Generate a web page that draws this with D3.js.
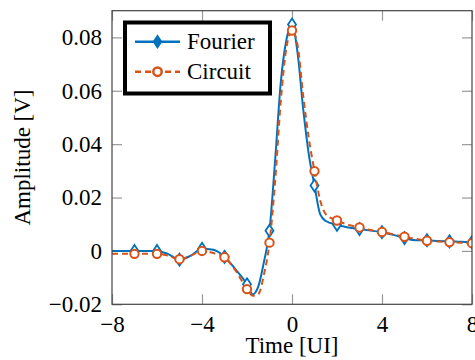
<!DOCTYPE html>
<html>
<head>
<meta charset="utf-8">
<script src="https://cdn.jsdelivr.net/npm/d3@7"></script>
<style>
  body { margin: 0; background: #fff; }
  svg { display: block; }
</style>
</head>
<body>
<svg id="chart"></svg>
<script>
// sample times of the traced curves
const lineTime = [-8, -7.5, -7, -6.5, -6, -5.5, -5, -4.5, -4, -3.5, -3, -2.5, -2, -1.75, -1.5, -1.25,
  -1, -0.75, -0.5, -0.25, 0, 0.25, 0.5, 0.75, 1, 1.25, 1.5, 2, 2.5, 3, 3.5, 4, 4.5, 5, 5.5, 6, 6.5, 7, 7.5, 8];
const fourierLine = [0, 0, 0, 0, 0, -0.0012, -0.0033, -0.0018, 0.0008, 0.0004, -0.0022, -0.0070, -0.0125, -0.0163, -0.0134, -0.0042,
  0.0076, 0.034, 0.063, 0.079, 0.0848, 0.074, 0.053, 0.036, 0.0245, 0.0138, 0.0112, 0.0098, 0.0088, 0.0082, 0.0076, 0.0070, 0.0060, 0.0048, 0.0040, 0.0040, 0.0037, 0.0036, 0.0034, 0.0033];
const circuitLine = [-0.0011, -0.0011, -0.0011, -0.0011, -0.0011, -0.0018, -0.0031, -0.0018, 0.0, -0.0008, -0.0024, -0.0075, -0.0143, -0.0168, -0.0162, -0.009,
  0.0031, 0.026, 0.056, 0.076, 0.0826, 0.077, 0.058, 0.042, 0.0299, 0.019, 0.0138, 0.0114, 0.0098, 0.0088, 0.0078, 0.0071, 0.0062, 0.0053, 0.0045, 0.0038, 0.0035, 0.0033, 0.0031, 0.0029];

// marker positions (one per UI)
const markTime = [-7, -6, -5, -4, -3, -2, -1, 0, 1, 2, 3, 4, 5, 6, 7, 8];
const fourierMarks = [0, 0, -0.0033, 0.0008, -0.0022, -0.0125, 0.0076, 0.0848, 0.0245, 0.0098, 0.0082, 0.0070, 0.0048, 0.0040, 0.0036, 0.0033];
const circuitMarks = [-0.0011, -0.0011, -0.0031, 0.0, -0.0024, -0.0143, 0.0031, 0.0826, 0.0299, 0.0114, 0.0088, 0.0071, 0.0053, 0.0038, 0.0033, 0.0029];

const xTicks = [-8, -4, 0, 4, 8];
const yTicks = [-0.02, 0, 0.02, 0.04, 0.06, 0.08];

const W = 475, H = 360;
const margin = { left: 112, right: 3, top: 10.7, bottom: 55.7 };
const blue = "#0072bd", orange = "#d95319";
const fontSize = 23;
const serif = "Liberation Serif";

const svg = d3.select("#chart").attr("width", W).attr("height", H);

const x = d3.scaleLinear().domain([-8, 8]).range([margin.left, W - margin.right]);
const y = d3.scaleLinear().domain([-0.02, 0.09]).range([H - margin.bottom, margin.top]);

const minus = (s) => s.replace("-", "\u2212");
const fmtY = (v) => (v === 0 ? "0" : minus(v.toFixed(2)));
const fmtX = (v) => minus(String(v));

// axes with inward ticks
const tickColor = "#999";
const styleAxis = (g) => {
  g.attr("font-family", serif).attr("font-size", fontSize);
  g.select(".domain").remove();
  g.selectAll(".tick line").attr("stroke", tickColor).attr("stroke-width", 1.2);
  g.selectAll(".tick text")
    .attr("fill", "#000")
    .attr("font-family", serif)
    .attr("font-size", fontSize);
};

svg.append("g")
  .attr("transform", `translate(0,${y(-0.02)})`)
  .call(d3.axisBottom(x).tickValues(xTicks).tickFormat(fmtX).tickSize(-10).tickPadding(11))
  .call(styleAxis);

svg.append("g")
  .attr("transform", `translate(0,${y(0.09)})`)
  .call(d3.axisTop(x).tickValues(xTicks).tickFormat("").tickSize(-10))
  .call(styleAxis);

svg.append("g")
  .attr("transform", `translate(${x(-8)},0)`)
  .call(d3.axisLeft(y).tickValues(yTicks).tickFormat(fmtY).tickSize(-10).tickPadding(10))
  .call(styleAxis);

svg.append("g")
  .attr("transform", `translate(${x(8)},0)`)
  .call(d3.axisRight(y).tickValues(yTicks).tickFormat("").tickSize(-10))
  .call(styleAxis);

// clip to plot area
svg.append("clipPath").attr("id", "plotClip")
  .append("rect")
  .attr("x", x(-8)).attr("y", y(0.09))
  .attr("width", x(8) - x(-8)).attr("height", y(-0.02) - y(0.09));

const plot = svg.append("g").attr("clip-path", "url(#plotClip)");

const line = d3.line()
  .x((d) => x(d[0]))
  .y((d) => y(d[1]))
  .curve(d3.curveMonotoneX);

const diamond = (cx, cy) => `M${cx},${cy - 6}L${cx + 4},${cy}L${cx},${cy + 6}L${cx - 4},${cy}Z`;

// Fourier
plot.append("path")
  .datum(d3.zip(lineTime, fourierLine))
  .attr("d", line)
  .attr("fill", "none")
  .attr("stroke", blue)
  .attr("stroke-width", 2);

plot.selectAll(".fmark")
  .data(d3.zip(markTime, fourierMarks))
  .enter()
  .append("path")
  .attr("class", "fmark")
  .attr("d", (d) => diamond(x(d[0]), y(d[1])))
  .attr("fill", "#fff")
  .attr("stroke", blue)
  .attr("stroke-width", 1.8);

// Circuit
plot.append("path")
  .datum(d3.zip(lineTime, circuitLine))
  .attr("d", line)
  .attr("fill", "none")
  .attr("stroke", orange)
  .attr("stroke-width", 2)
  .attr("stroke-dasharray", "6,4");

plot.selectAll(".cmark")
  .data(d3.zip(markTime, circuitMarks))
  .enter()
  .append("circle")
  .attr("class", "cmark")
  .attr("cx", (d) => x(d[0]))
  .attr("cy", (d) => y(d[1]))
  .attr("r", 4.2)
  .attr("fill", "#fff")
  .attr("stroke", orange)
  .attr("stroke-width", 2);

// frame
svg.append("rect")
  .attr("x", x(-8)).attr("y", y(0.09))
  .attr("width", x(8) - x(-8)).attr("height", y(-0.02) - y(0.09))
  .attr("fill", "none")
  .attr("stroke", "#444")
  .attr("stroke-width", 1.2);

// axis labels
svg.append("text")
  .attr("x", x(0))
  .attr("y", 353)
  .attr("text-anchor", "middle")
  .attr("font-family", serif)
  .attr("font-size", fontSize)
  .text("Time [UI]");

svg.append("text")
  .attr("transform", `translate(30,${(y(-0.02) + y(0.09)) / 2}) rotate(-90)`)
  .attr("text-anchor", "middle")
  .attr("font-family", serif)
  .attr("font-size", fontSize)
  .text("Amplitude [V]");

// legend
const legend = svg.append("g");
legend.append("rect")
  .attr("x", 125).attr("y", 22.5)
  .attr("width", 145).attr("height", 71)
  .attr("fill", "#fff")
  .attr("stroke", "#000")
  .attr("stroke-width", 4);

const legendItems = [
  { name: "Fourier", color: blue, dash: null, y: 41.7 },
  { name: "Circuit", color: orange, dash: "6,4", y: 71.7 }
];

legendItems.forEach((item) => {
  legend.append("line")
    .attr("x1", 135).attr("x2", 180)
    .attr("y1", item.y).attr("y2", item.y)
    .attr("stroke", item.color)
    .attr("stroke-width", 2.5)
    .attr("stroke-dasharray", item.dash);
  if (item.name === "Fourier") {
    legend.append("path")
      .attr("d", diamond(157.5, item.y))
      .attr("fill", item.color)
      .attr("stroke", item.color)
      .attr("stroke-width", 1.5);
  } else {
    legend.append("circle")
      .attr("cx", 157.5).attr("cy", item.y).attr("r", 4.2)
      .attr("fill", "#fff")
      .attr("stroke", item.color)
      .attr("stroke-width", 2.5);
  }
  legend.append("text")
    .attr("x", 187)
    .attr("y", item.y + 7.6)
    .attr("font-family", serif)
    .attr("font-size", fontSize)
    .text(item.name);
});
</script>
</body>
</html>
